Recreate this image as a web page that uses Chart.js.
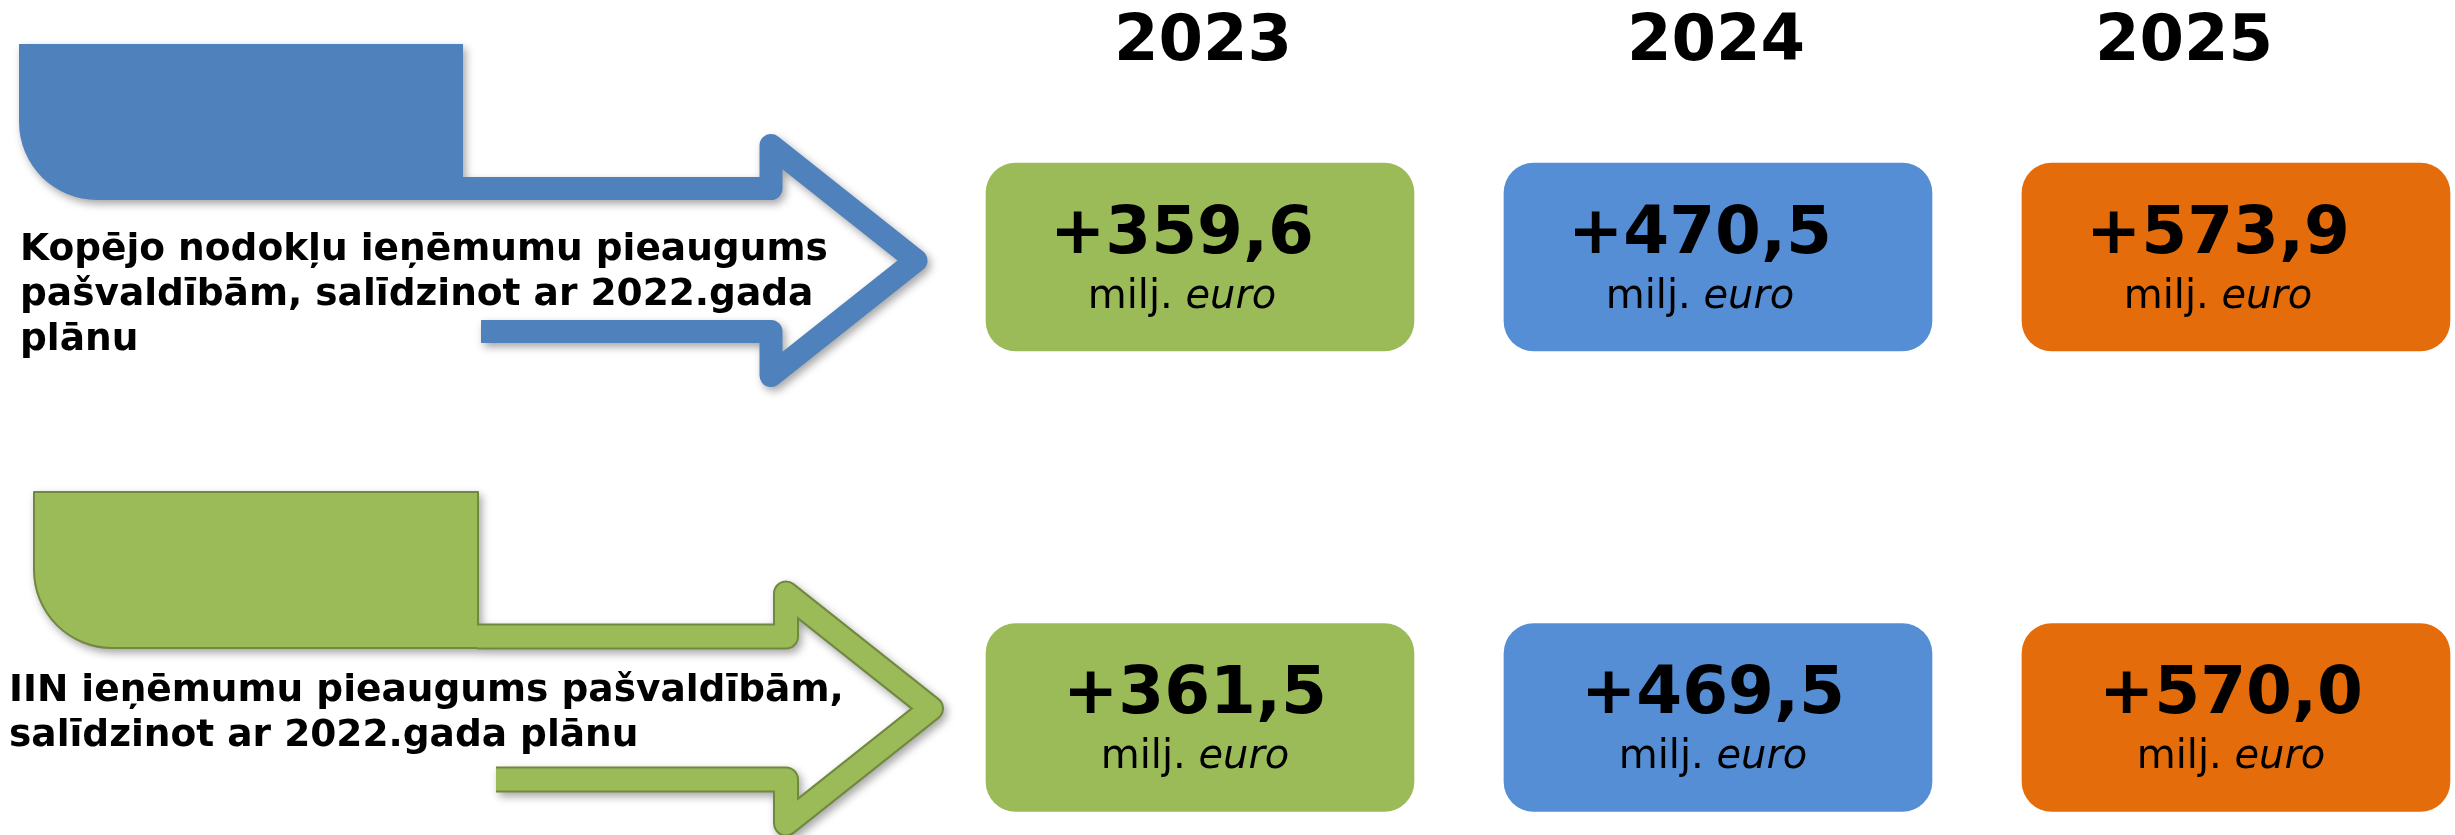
<!DOCTYPE html>
<html>
<head>
<meta charset="utf-8">
<script src="https://cdn.jsdelivr.net/npm/chart.js@4.4.1/dist/chart.umd.min.js"></script>
<style>
  html, body { margin: 0; padding: 0; background: #fff; overflow: hidden; }
  canvas { display: block; }
</style>
</head>
<body>
<canvas id="growthChart" width="2455" height="835"></canvas>
<script>
// Data
const years = [2023, 2024, 2025];
const rowLabels = [
  ["Kopējo nodokļu ieņēmumu pieaugums", "pašvaldībām, salīdzinot ar 2022.gada", "plānu"],
  ["IIN ieņēmumu pieaugums pašvaldībām,", "salīdzinot ar 2022.gada plānu"]
];
const totalTaxGrowth = [359.6, 470.5, 573.9];
const iinGrowth = [361.5, 469.5, 570.0];
const unitText = ["milj. ", "euro"];

// Styles + layout
const FONT = "'DejaVu Sans', Verdana, sans-serif";
const yearColors = ["#9BBB59", "#558ED5", "#E46C0A"];
const arrowStyles = [
  { fill: "#4F81BD", line: null },
  { fill: "#9BBB59", line: "#71893F" }
];
const arrowOrigins = [[19, 44], [34, 492]];
const captionPos = [[20, 260], [9, 701]];
const yearNudge = [3, -2, -52];
const rowTextShift = [-18, -5];
const boxHalf = 0.204;      // half box height in row units
const yearRow = -0.428;     // baseline of year headings in row units

function fmt(v) {
  return "+" + v.toFixed(1).replace(".", ",");
}

function rowData(values, row) {
  return values.map((v, i) => ({ x: years[i], y: [row - boxHalf, row + boxHalf], value: v }));
}

function arrowPoints(ox, oy) {
  const bandY = oy + 156 - 11.5, vx = ox + 752;
  return [
    [ox + 443, bandY], [vx, bandY], [vx, bandY - 43],
    [ox + 897, bandY + 72], [vx, bandY + 187], [vx, bandY + 143], [ox + 462, bandY + 143]
  ];
}

function drawArrow(c, ox, oy, style) {
  const w = 444, h = 156, r = 78;
  const pts = arrowPoints(ox, oy);
  const line = (lw, color) => {
    c.beginPath();
    pts.forEach((p, i) => (i ? c.lineTo(p[0], p[1]) : c.moveTo(p[0], p[1])));
    c.lineWidth = lw;
    c.strokeStyle = color;
    c.lineJoin = "round";
    c.lineCap = "butt";
    c.stroke();
  };
  c.beginPath();
  c.moveTo(ox, oy);
  c.lineTo(ox + w, oy);
  c.lineTo(ox + w, oy + h);
  c.lineTo(ox + r, oy + h);
  c.arcTo(ox, oy + h, ox, oy + h - r, r);
  c.closePath();
  c.fillStyle = style.fill;
  c.fill();
  if (style.line) {
    c.lineWidth = 2;
    c.strokeStyle = style.line;
    c.stroke();
    line(26, style.line);
    line(22, style.fill);
  } else {
    line(23, style.fill);
  }
}

// Arrows + row captions
const rowDecor = {
  id: "rowDecor",
  beforeDatasetsDraw(chart) {
    const ctx = chart.ctx;
    const off = document.createElement("canvas");
    off.width = chart.width;
    off.height = chart.height;
    const oc = off.getContext("2d");
    arrowOrigins.forEach((o, i) => drawArrow(oc, o[0], o[1], arrowStyles[i]));
    ctx.save();
    ctx.shadowColor = "rgba(0,0,0,0.35)";
    ctx.shadowBlur = 8;
    ctx.shadowOffsetX = 3;
    ctx.shadowOffsetY = 4;
    ctx.drawImage(off, 0, 0);
    ctx.restore();

    ctx.save();
    ctx.fillStyle = "#000";
    ctx.font = "bold 37.5px " + FONT;
    ctx.textAlign = "left";
    ctx.textBaseline = "alphabetic";
    rowLabels.forEach((lines, r) => {
      lines.forEach((t, k) => ctx.fillText(t, captionPos[r][0], captionPos[r][1] + k * 45));
    });
    ctx.restore();
  }
};

// Year headings + values inside the boxes
const boxText = {
  id: "boxText",
  afterDatasetsDraw(chart) {
    const ctx = chart.ctx;
    const xs = chart.scales.x, ys = chart.scales.y;
    ctx.save();
    ctx.fillStyle = "#000";
    ctx.textBaseline = "alphabetic";
    ctx.textAlign = "center";
    ctx.font = "bold 64px " + FONT;
    years.forEach((yr, i) => {
      ctx.fillText(String(yr), xs.getPixelForValue(yr) + yearNudge[i], ys.getPixelForValue(yearRow));
    });

    chart.data.datasets.forEach((ds, d) => {
      chart.getDatasetMeta(d).data.forEach((bar, i) => {
        const cx = bar.x + rowTextShift[d];
        const cy = (bar.y + bar.base) / 2;
        ctx.textAlign = "center";
        ctx.font = "bold 66px " + FONT;
        ctx.fillText(fmt(ds.data[i].value), cx, cy - 4);

        ctx.textAlign = "left";
        ctx.font = "40px " + FONT;
        const w1 = ctx.measureText(unitText[0]).width;
        ctx.font = "italic 40px " + FONT;
        const w2 = ctx.measureText(unitText[1]).width;
        const left = cx - (w1 + w2) / 2;
        ctx.font = "40px " + FONT;
        ctx.fillText(unitText[0], left, cy + 51);
        ctx.font = "italic 40px " + FONT;
        ctx.fillText(unitText[1], left + w1, cy + 51);
      });
    });
    ctx.restore();
  }
};

new Chart(document.getElementById("growthChart"), {
  type: "bar",
  data: {
    datasets: [
      { label: "Kopējo nodokļu ieņēmumu pieaugums", data: rowData(totalTaxGrowth, 0), backgroundColor: yearColors },
      { label: "IIN ieņēmumu pieaugums", data: rowData(iinGrowth, 1), backgroundColor: yearColors }
    ]
  },
  options: {
    responsive: false,
    animation: false,
    devicePixelRatio: 1,
    grouped: false,
    barThickness: 428,
    borderRadius: 30,
    borderSkipped: false,
    layout: { padding: 0 },
    plugins: { legend: { display: false }, tooltip: { enabled: false } },
    scales: {
      x: { type: "linear", display: false, offset: false, bounds: "data", min: 2020.6834, max: 2025.4228 },
      y: { type: "linear", display: false, reverse: true, bounds: "data", min: -0.5581, max: 1.2552 }
    }
  },
  plugins: [rowDecor, boxText]
});
</script>
</body>
</html>
